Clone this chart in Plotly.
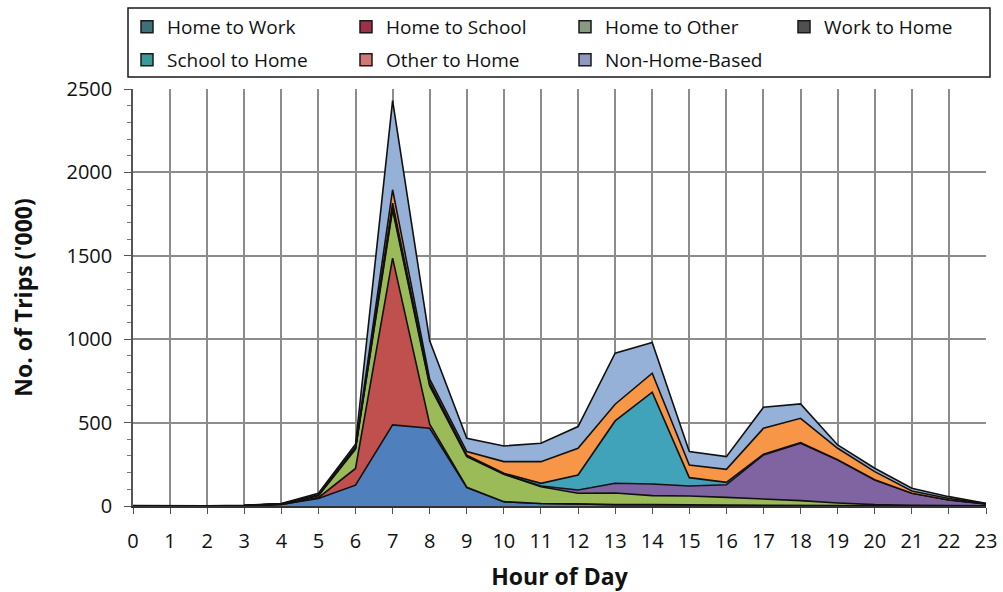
import plotly.graph_objects as go

hours = list(range(24))
hour_labels = [str(h) for h in hours]

home_to_work = [1, 0.5, 1, 3, 9, 45, 125, 486, 466, 110, 25, 15, 13, 8, 8, 6, 5, 4, 3, 2, 1, 1, 0.5, 0.5]
home_to_school = [0, 0, 0, 0, 1, 5, 100, 1000, 25, 3, 1, 0, 0, 0, 0, 0, 0, 0, 0, 0, 0, 0, 0, 0]
home_to_other = [0, 0, 0, 0, 1, 12, 115, 290, 229, 183, 164, 100, 63, 70, 54, 54, 47, 40, 29, 16, 7, 3, 1.5, 0.5]
work_to_home = [0, 0, 0, 0, 1, 2, 5, 15, 8, 4, 2, 5, 20, 58, 70, 60, 75, 262, 344, 258, 148, 72, 34, 11]
school_to_home = [0, 0, 0, 0, 0, 1, 5, 25, 10, 5, 4, 16, 90, 374, 550, 50, 15, 4, 4, 2, 1, 0, 0, 0]
other_to_home = [0, 0, 0, 0, 1, 3, 5, 80, 22, 21, 70, 130, 160, 100, 114, 76, 78, 156, 146, 68, 49, 14, 9, 2]
non_home_based = [1, 0.5, 0.5, 1, 2, 8, 15, 534, 230, 80, 94, 110, 130, 306, 184, 80, 76, 126, 86, 20, 20, 16, 11, 2]

series_names = ["Home to Work", "Home to School", "Home to Other", "Work to Home",
                "School to Home", "Other to Home", "Non-Home-Based"]
series_values = [home_to_work, home_to_school, home_to_other, work_to_home,
                 school_to_home, other_to_home, non_home_based]
fill_colors = ["#4f7fbd", "#c0504d", "#9bbb59", "#8064a2", "#40a3b9", "#f79646", "#95b1d8"]
legend_colors = ["#3f6f78", "#a03048", "#8a9a80", "#505050", "#3a9a9a", "#d07878", "#9098c0"]
legend_rows = ["legend", "legend", "legend", "legend", "legend2", "legend2", "legend2"]

y_ticks = [0, 500, 1000, 1500, 2000, 2500]

FONT = "Open Sans"

# plot area geometry (pixels)
L, R, T, B = 133, 17, 89, 86
W, H = 1003, 592
PW, PH = W - L - R, H - T - B


def px_x(p):
    return (p - L) / PW


def px_y(p):
    return (H - B - p) / PH


fig = go.Figure()

for name, vals, col in zip(series_names, series_values, fill_colors):
    fig.add_trace(go.Scatter(
        x=hours, y=vals, name=name, stackgroup="one", mode="lines",
        line=dict(color="#111111", width=1.6), fillcolor=col,
        showlegend=False, hoverinfo="x+y+name",
    ))

for name, col, lg in zip(series_names, legend_colors, legend_rows):
    fig.add_trace(go.Scatter(
        x=[None], y=[None], name=name, mode="markers",
        marker=dict(symbol="square", size=12, color=col,
                    line=dict(color="#1a1a1a", width=1.5)),
        showlegend=True, legend=lg,
    ))

legend_common = dict(
    orientation="h", xanchor="left", yanchor="top",
    borderwidth=0, bgcolor="rgba(0,0,0,0)",
    font=dict(family=FONT, size=19, color="#111111"),
    entrywidth=174, entrywidthmode="pixels", traceorder="normal",
)

fig.update_layout(
    width=W, height=H,
    margin=dict(l=L, r=R, t=T, b=B, autoexpand=False),
    paper_bgcolor="white", plot_bgcolor="white",
    font=dict(family=FONT, size=19, color="#111111"),
    showlegend=True,
    legend=dict(x=px_x(127), y=px_y(8), **legend_common),
    legend2=dict(x=px_x(127), y=px_y(41), **legend_common),
    shapes=[dict(type="rect", xref="paper", yref="paper",
                 x0=px_x(128), x1=px_x(990), y0=px_y(77), y1=px_y(8),
                 line=dict(color="#1a1a1a", width=1.5), fillcolor="rgba(0,0,0,0)", layer="above")],
    xaxis=dict(
        range=[0, 23], tickmode="array", tickvals=hours, ticktext=hour_labels,
        showgrid=True, gridcolor="#8c8c8c", gridwidth=1.5,
        showline=True, linecolor="#333333", linewidth=1.5,
        ticks="outside", ticklen=6, tickcolor="#555555", tickwidth=1.2,
        ticklabelstandoff=10,
        tickfont=dict(family=FONT, size=20, color="#111111"),
        title=dict(text="<b>Hour of Day</b>", font=dict(family=FONT, size=23, color="#111111"), standoff=16),
        zeroline=False, fixedrange=True,
    ),
    yaxis=dict(
        range=[0, 2500], tickmode="array", tickvals=y_ticks,
        showgrid=True, gridcolor="#8c8c8c", gridwidth=1.5,
        showline=True, linecolor="#555555", linewidth=1.5,
        ticks="outside", ticklen=7, tickcolor="#555555", tickwidth=1.2,
        ticklabelstandoff=8,
        minor=dict(dtick=100, ticks="outside", ticklen=4, tickcolor="#777777", showgrid=False),
        tickfont=dict(family=FONT, size=20, color="#111111"),
        title=dict(text="<b>No. of Trips ('000)</b>", font=dict(family=FONT, size=23, color="#111111"), standoff=27),
        zeroline=False, fixedrange=True,
    ),
)

fig.write_html("out.html", config={"displayModeBar": False},
               post_script="document.body.style.margin='0px';")
